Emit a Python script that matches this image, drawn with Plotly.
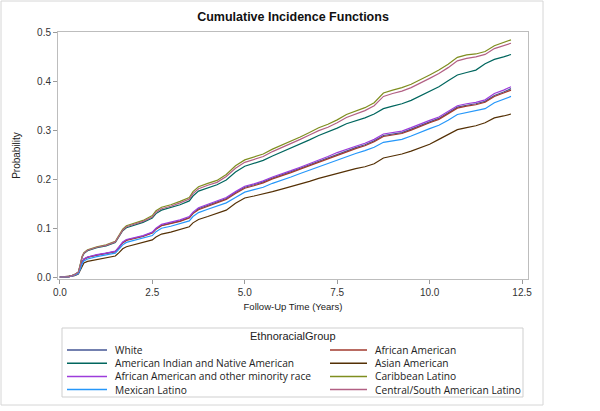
import plotly.graph_objects as go

# ---------------- data ----------------
time_years = [0, 0.25, 0.4, 0.5, 0.55, 0.6, 0.65, 0.75,
              1.0, 1.25, 1.5, 1.6, 1.7, 1.8,
              2.0, 2.25, 2.5, 2.6, 2.75,
              3.0, 3.25, 3.5, 3.6, 3.75,
              4.0, 4.25, 4.5, 4.75,
              5.0, 5.25, 5.5, 5.75,
              6.0, 6.25, 6.5, 6.75,
              7.0, 7.25, 7.5, 7.75,
              8.0, 8.25, 8.5, 8.75,
              9.0, 9.25, 9.5, 9.75,
              10.0, 10.25, 10.5, 10.75,
              11.0, 11.25, 11.5, 11.75,
              12.0, 12.2]

white = [0, 0.001, 0.004, 0.008, 0.019, 0.031, 0.037, 0.041,
         0.045, 0.048, 0.052, 0.061, 0.071, 0.076,
         0.080, 0.084, 0.091, 0.099, 0.106,
         0.110, 0.115, 0.122, 0.131, 0.140,
         0.147, 0.153, 0.161, 0.173,
         0.184, 0.189, 0.195, 0.203,
         0.209, 0.216, 0.223, 0.230,
         0.238, 0.245, 0.252, 0.259,
         0.265, 0.271, 0.279, 0.290,
         0.293, 0.296, 0.303, 0.311,
         0.318, 0.325, 0.336, 0.348,
         0.352, 0.355, 0.360, 0.372,
         0.379, 0.386]

african_american = [0, 0.001, 0.004, 0.008, 0.018, 0.030, 0.036, 0.040,
                     0.045, 0.048, 0.052, 0.061, 0.070, 0.075,
                     0.079, 0.083, 0.090, 0.098, 0.105,
                     0.109, 0.114, 0.121, 0.130, 0.138,
                     0.145, 0.151, 0.159, 0.171,
                     0.182, 0.187, 0.193, 0.201,
                     0.207, 0.214, 0.221, 0.228,
                     0.236, 0.243, 0.250, 0.257,
                     0.263, 0.269, 0.277, 0.288,
                     0.291, 0.294, 0.301, 0.309,
                     0.316, 0.323, 0.334, 0.346,
                     0.350, 0.353, 0.358, 0.370,
                     0.377, 0.383]

american_indian = [0, 0.001, 0.005, 0.010, 0.024, 0.040, 0.048, 0.054,
                   0.060, 0.064, 0.071, 0.082, 0.095, 0.101,
                   0.106, 0.112, 0.121, 0.130, 0.137,
                   0.142, 0.148, 0.156, 0.166, 0.176,
                   0.183, 0.189, 0.199, 0.215,
                   0.227, 0.233, 0.239, 0.248,
                   0.256, 0.264, 0.273, 0.281,
                   0.290, 0.297, 0.305, 0.314,
                   0.320, 0.326, 0.334, 0.345,
                   0.350, 0.355, 0.362, 0.371,
                   0.381, 0.390, 0.402, 0.414,
                   0.419, 0.424, 0.437, 0.446,
                   0.451, 0.456]

asian_american = [0, 0.001, 0.003, 0.006, 0.014, 0.024, 0.029, 0.032,
                  0.036, 0.039, 0.043, 0.050, 0.058, 0.062,
                  0.066, 0.070, 0.076, 0.082, 0.088,
                  0.092, 0.097, 0.103, 0.111, 0.118,
                  0.124, 0.130, 0.137, 0.151,
                  0.162, 0.166, 0.170, 0.175,
                  0.180, 0.185, 0.190, 0.196,
                  0.202, 0.207, 0.212, 0.218,
                  0.222, 0.226, 0.232, 0.244,
                  0.248, 0.252, 0.258, 0.265,
                  0.272, 0.282, 0.292, 0.302,
                  0.306, 0.310, 0.316, 0.326,
                  0.330, 0.334]

aa_other_minority = [0, 0.001, 0.004, 0.008, 0.018, 0.030, 0.037, 0.041,
                     0.046, 0.049, 0.053, 0.062, 0.072, 0.077,
                     0.081, 0.085, 0.092, 0.100, 0.108,
                     0.112, 0.117, 0.124, 0.133, 0.142,
                     0.149, 0.155, 0.163, 0.175,
                     0.186, 0.191, 0.197, 0.205,
                     0.211, 0.218, 0.225, 0.232,
                     0.240, 0.247, 0.255, 0.262,
                     0.268, 0.274, 0.282, 0.293,
                     0.296, 0.299, 0.306, 0.314,
                     0.321, 0.328, 0.339, 0.351,
                     0.355, 0.358, 0.363, 0.376,
                     0.383, 0.390]

caribbean_latino = [0, 0.001, 0.005, 0.010, 0.025, 0.042, 0.050, 0.056,
                    0.062, 0.066, 0.073, 0.085, 0.098, 0.105,
                    0.110, 0.116, 0.126, 0.136, 0.143,
                    0.148, 0.155, 0.163, 0.175, 0.185,
                    0.192, 0.198, 0.210, 0.228,
                    0.240, 0.246, 0.252, 0.262,
                    0.270, 0.278, 0.287, 0.296,
                    0.306, 0.313, 0.322, 0.333,
                    0.340, 0.347, 0.357, 0.377,
                    0.383, 0.388, 0.395, 0.404,
                    0.414, 0.424, 0.436, 0.450,
                    0.455, 0.457, 0.462, 0.474,
                    0.480, 0.486]

mexican_latino = [0, 0.001, 0.004, 0.007, 0.016, 0.027, 0.033, 0.037,
                  0.042, 0.045, 0.049, 0.057, 0.066, 0.071,
                  0.075, 0.079, 0.085, 0.093, 0.100,
                  0.104, 0.109, 0.115, 0.124, 0.132,
                  0.139, 0.145, 0.152, 0.163,
                  0.174, 0.179, 0.184, 0.192,
                  0.198, 0.205, 0.212, 0.219,
                  0.226, 0.233, 0.240, 0.247,
                  0.253, 0.259, 0.266, 0.276,
                  0.279, 0.282, 0.289, 0.297,
                  0.304, 0.311, 0.321, 0.333,
                  0.337, 0.340, 0.345, 0.357,
                  0.364, 0.370]

central_south_latino = [0, 0.001, 0.005, 0.010, 0.024, 0.041, 0.049, 0.055,
                        0.061, 0.065, 0.072, 0.083, 0.096, 0.103,
                        0.108, 0.114, 0.123, 0.133, 0.140,
                        0.145, 0.152, 0.160, 0.171, 0.181,
                        0.188, 0.194, 0.206, 0.223,
                        0.235, 0.241, 0.247, 0.257,
                        0.265, 0.273, 0.282, 0.291,
                        0.300, 0.307, 0.316, 0.327,
                        0.334, 0.341, 0.351, 0.370,
                        0.376, 0.381, 0.388, 0.397,
                        0.407, 0.417, 0.429, 0.443,
                        0.448, 0.451, 0.456, 0.468,
                        0.474, 0.479]

group_names = ["White", "African American",
               "American Indian and Native American", "Asian American",
               "African American and other minority race", "Caribbean Latino",
               "Mexican Latino", "Central/South American Latino"]
group_values = [white, african_american, american_indian, asian_american,
                aa_other_minority, caribbean_latino, mexican_latino,
                central_south_latino]
group_colors = ["#445694", "#A23A2E", "#01665E", "#543005",
                "#9D3CDB", "#7F8E1F", "#2597FA", "#B26084"]

x_tick_vals = [0, 2.5, 5.0, 7.5, 10.0, 12.5]
y_tick_vals = [0.0, 0.1, 0.2, 0.3, 0.4, 0.5]

for v in group_values:
    assert len(v) == len(time_years)

# ---------------- layout geometry ----------------
W, H = 600, 411
ML, MR, MT, MB = 58, 72, 32, 132
PW, PH = W - ML - MR, H - MT - MB


def pxx(px):
    return (px - ML) / PW


def pxy(py):
    return (H - MB - py) / PH


AXIS_FONT = "Liberation Sans, Arial, sans-serif"
LEG_FONT = "Open Sans, Noto Sans, sans-serif"

fig = go.Figure()
for name, vals, col in zip(group_names, group_values, group_colors):
    fig.add_trace(go.Scatter(x=time_years, y=vals, mode="lines", name=name,
                             line=dict(color=col, width=1.2),
                             showlegend=False))

shapes = []
annotations = []

# outer frame of the graph image
shapes.append(dict(type="rect", xref="paper", yref="paper",
                   x0=pxx(1), x1=pxx(543), y0=pxy(1), y1=pxy(405),
                   line=dict(color="#d6d6d6", width=1), layer="below"))

# legend box
shapes.append(dict(type="rect", xref="paper", yref="paper",
                   x0=pxx(62), x1=pxx(523), y0=pxy(328), y1=pxy(397),
                   line=dict(color="#cfcfcf", width=1)))
annotations.append(dict(text="EthnoracialGroup", xref="paper", yref="paper",
                        x=pxx(292.5), y=pxy(336), xanchor="center",
                        yanchor="middle", showarrow=False,
                        font=dict(family=AXIS_FONT, size=11, color="#222")))

line_x0 = [67, 330]
line_x1 = [107, 367]
text_x = [113, 373]
for i, (name, col) in enumerate(zip(group_names, group_colors)):
    c, r = i % 2, i // 2
    yy = 350 + r * 13.2
    shapes.append(dict(type="line", xref="paper", yref="paper",
                       x0=pxx(line_x0[c]), x1=pxx(line_x1[c]),
                       y0=pxy(yy), y1=pxy(yy),
                       line=dict(color=col, width=1.5)))
    annotations.append(dict(text=name, xref="paper", yref="paper",
                            x=pxx(text_x[c]), y=pxy(yy), xanchor="left",
                            yanchor="middle", showarrow=False,
                            font=dict(family=LEG_FONT, size=10.2,
                                      color="#222")))

fig.update_layout(
    width=W, height=H,
    margin=dict(l=ML, r=MR, t=MT, b=MB, pad=0),
    paper_bgcolor="white", plot_bgcolor="white",
    title=dict(text="<b>Cumulative Incidence Functions</b>",
               x=pxx(293), xref="paper", xanchor="center",
               y=1 - 17 / H, yref="container", yanchor="middle",
               font=dict(family=AXIS_FONT, size=12.5, color="#111")),
    shapes=shapes, annotations=annotations,
    showlegend=False,
)

fig.update_xaxes(range=[-0.05, 12.66], tickvals=x_tick_vals,
                 tickformat=".1f", showgrid=False, zeroline=False,
                 showline=True, linecolor="#bdbdbd", linewidth=1,
                 mirror=True, ticks="outside", ticklen=4,
                 tickcolor="#9a9a9a", automargin=False,
                 tickfont=dict(family=AXIS_FONT, size=10, color="#333"),
                 title=dict(text="Follow-Up Time (Years)", standoff=6,
                            font=dict(family=AXIS_FONT, size=9.5,
                                      color="#222")))
fig.update_yaxes(range=[-0.004, 0.502], tickvals=y_tick_vals,
                 tickformat=".1f", showgrid=False, zeroline=False,
                 showline=True, linecolor="#bdbdbd", linewidth=1,
                 mirror=True, ticks="outside", ticklen=4,
                 tickcolor="#9a9a9a", automargin=False,
                 tickfont=dict(family=AXIS_FONT, size=10, color="#333"),
                 title=dict(text="Probability", standoff=14,
                            font=dict(family="Liberation Sans Narrow, Liberation Sans, Arial", size=10,
                                      color="#222")))

fig.write_html("out.html",
               config={"displayModeBar": False},
               post_script="document.body.style.margin='0';")
